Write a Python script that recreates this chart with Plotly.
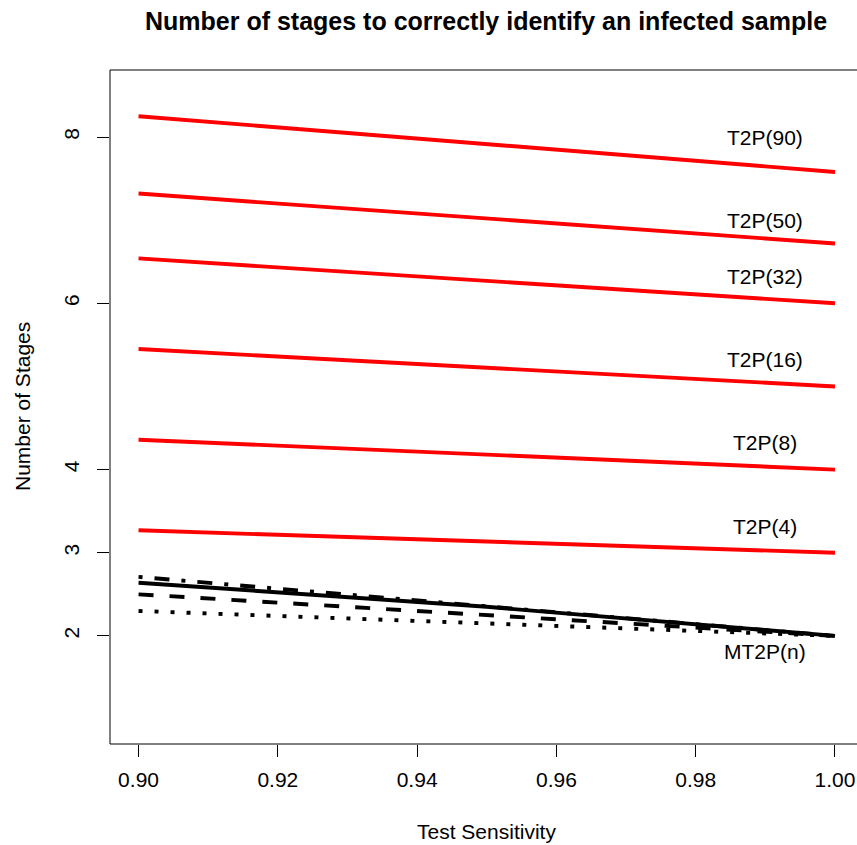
import plotly.graph_objects as go

# ---- data ----
sens_red = [0.90, 1.00]
t2p_90 = [8.25, 7.58]
t2p_50 = [7.32, 6.72]
t2p_32 = [6.54, 6.00]
t2p_16 = [5.45, 5.00]
t2p_8 = [4.36, 4.00]
t2p_4 = [3.27, 3.00]

sens_black = [0.90, 0.95, 1.00]
mt2p_dotdash = [2.71, 2.36, 2.00]
mt2p_solid = [2.64, 2.35, 2.00]
mt2p_dashed = [2.50, 2.25, 2.00]
mt2p_dotted = [2.30, 2.15, 2.00]

label_texts = ["T2P(90)", "T2P(50)", "T2P(32)", "T2P(16)", "T2P(8)", "T2P(4)", "MT2P(n)"]
label_y = [8.0, 7.0, 6.32, 5.33, 4.33, 3.31, 1.81]
label_x = 0.99

x_ticks = [0.90, 0.92, 0.94, 0.96, 0.98, 1.00]
x_tick_text = ["0.90", "0.92", "0.94", "0.96", "0.98", "1.00"]
y_ticks = [2, 3, 4, 6, 8]

title_text = "Number of stages to correctly identify an infected sample"
x_title = "Test Sensitivity"
y_title = "Number of Stages"

FONT = "Liberation Sans, Arial, Helvetica, sans-serif"
LW = 3.9

W, H = 857, 845
L, R, T, B = 110, 0, 70, 101
pw, ph = W - L - R, H - T - B


def paper_x(win_x):
    return (win_x - L) / pw


def paper_y(win_y):
    return (H - B - win_y) / ph


fig = go.Figure()
for vals in [t2p_90, t2p_50, t2p_32, t2p_16, t2p_8, t2p_4]:
    fig.add_trace(go.Scatter(x=sens_red, y=vals, mode="lines",
                             line=dict(color="#ff0000", width=LW), showlegend=False,
                             hoverinfo="skip"))

black_styles = [
    (mt2p_dotdash, "4px,12px,15px,12px"),
    (mt2p_solid, "solid"),
    (mt2p_dashed, "15px,16px"),
    (mt2p_dotted, "4px,12px"),
]
for vals, dash in black_styles:
    fig.add_trace(go.Scatter(x=sens_black, y=vals, mode="lines",
                             line=dict(color="black", width=LW, dash=dash),
                             showlegend=False, hoverinfo="skip"))

annotations = []
for t, yv in zip(label_texts, label_y):
    annotations.append(dict(x=label_x, y=yv, xref="x", yref="y", text=t,
                            showarrow=False, font=dict(size=21, color="black", family=FONT),
                            xanchor="center", yanchor="middle"))
annotations.append(dict(x=paper_x(486), y=paper_y(21), xref="paper", yref="paper",
                        text="<b>" + title_text + "</b>", showarrow=False,
                        xanchor="center", yanchor="middle",
                        font=dict(size=25, color="black", family=FONT)))
annotations.append(dict(x=paper_x(486), y=paper_y(831), xref="paper", yref="paper",
                        text=x_title, showarrow=False, xanchor="center", yanchor="middle",
                        font=dict(size=21, color="black", family=FONT)))
annotations.append(dict(x=paper_x(22), y=paper_y(407), xref="paper", yref="paper",
                        text=y_title, showarrow=False, textangle=-90,
                        xanchor="center", yanchor="middle",
                        font=dict(size=21, color="black", family=FONT)))

box_line = dict(color="black", width=1)
shapes = [
    dict(type="line", xref="paper", yref="paper", x0=0, x1=0, y0=0, y1=1, line=box_line, layer="above"),
    dict(type="line", xref="paper", yref="paper", x0=0, x1=1.0, y0=1, y1=1, line=box_line, layer="above"),
    dict(type="line", xref="paper", yref="paper", x0=0, x1=1.0, y0=0, y1=0, line=box_line, layer="above"),
]

fig.update_layout(
    width=W, height=H, autosize=False,
    margin=dict(l=L, r=R, t=T, b=B, pad=0),
    paper_bgcolor="white", plot_bgcolor="white",
    annotations=annotations,
    font=dict(family=FONT, size=21, color="black"),
    xaxis=dict(range=[0.8959, 1.00316], tickvals=x_ticks, ticktext=x_tick_text,
               ticks="outside", ticklen=12, tickwidth=1, tickcolor="black",
               showgrid=False, zeroline=False, showline=False,
               ticklabelstandoff=5, tickfont=dict(size=21, family=FONT)),
    yaxis=dict(range=[0.70, 8.806], tickvals=y_ticks, ticks="outside", ticklen=12,
               tickwidth=1, tickcolor="black", showgrid=False, zeroline=False,
               showline=False, tickangle=-90, ticklabelstandoff=10,
               tickfont=dict(size=21, family=FONT)),
    shapes=shapes,
)

fig.write_html(
    "out.html",
    config={"displayModeBar": False},
    post_script="document.body.style.margin='0';document.body.style.overflow='hidden';",
)
